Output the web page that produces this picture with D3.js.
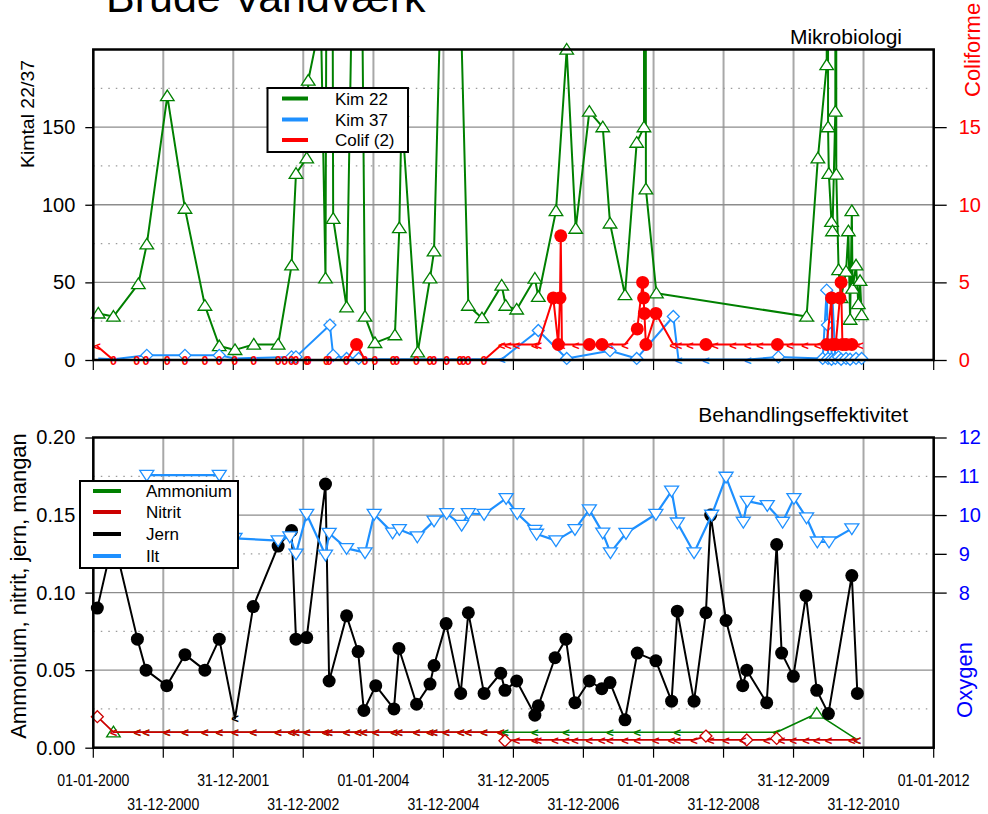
<!DOCTYPE html>
<html lang="da">
<head>
<meta charset="UTF-8">
<title>Brude Vandværk</title>
<script src="https://d3js.org/d3.v7.min.js"></script>
<style>
  body { margin: 0; background: #fff; }
  svg { font-family: "Liberation Sans", Arial, sans-serif; }
</style>
</head>
<body>
<div id="content"></div>
<script>
// ---- data ----
const tickDates = ["2000-01-01","2000-12-31","2001-12-31","2002-12-31","2004-01-01","2004-12-31","2005-12-31","2006-12-31","2008-01-01","2008-12-31","2009-12-31","2010-12-31","2012-01-01"];

const kim22Dates = ["2000-01-27","2000-04-15","2000-08-23","2000-10-06","2001-01-21","2001-04-23","2001-08-05","2001-10-19","2002-01-09","2002-04-17","2002-08-22","2002-10-31","2002-11-23","2003-01-18","2003-01-26","2003-04-02","2003-04-26","2003-05-19","2003-06-05","2003-08-14","2003-10-16","2003-11-18","2004-01-09","2004-04-22","2004-05-15","2004-05-27","2004-08-19","2004-10-22","2004-11-12","2005-02-07","2005-05-10","2005-07-20","2005-10-31","2005-11-21","2006-01-17","2006-04-22","2006-05-10","2006-08-10","2006-10-05","2006-11-21","2007-01-31","2007-04-11","2007-05-19","2007-08-05","2007-10-05","2007-11-12","2007-11-18","2007-11-22","2008-01-16","2010-03-09","2010-05-07","2010-06-22","2010-06-26","2010-06-29","2010-07-03","2010-07-17","2010-07-22","2010-08-06","2010-08-08","2010-08-11","2010-08-23","2010-09-05","2010-10-01","2010-10-13","2010-10-22","2010-10-31","2010-11-04","2010-11-22","2010-12-04","2010-12-13","2010-12-21"];
const kim22 = [30,28,49,74.5,170,97.5,35,9,6.5,10,10,61,120,130,180,220,52.6,1000,91,34,490,28,11,16,85,160,5,52.6,70,480,35,27,48,35,32.6,52.5,40.7,96,200,84.6,160,150,88,41.8,140,150,1500,110,43,28,130,190,2000,150,120,89,83,160,2000,119.5,58,40,57,83,26,96,46,61,36,51,29];

const kim37Dates = ["2000-01-27","2000-04-15","2000-10-06","2001-04-23","2001-10-19","2002-01-09","2002-10-31","2002-11-23","2003-05-19","2003-06-05","2003-08-14","2003-10-16","2004-01-09","2005-10-31","2006-05-10","2006-10-05","2007-05-19","2007-10-05","2008-04-13","2008-05-10","2008-09-30","2009-05-07","2009-10-13","2010-06-01","2010-06-22","2010-06-26","2010-06-29","2010-07-17","2010-07-22","2010-08-06","2010-08-23","2010-09-05","2010-10-01","2010-10-22","2010-11-22","2010-12-21"];
const kim37 = [1,0.5,3,3,3,1,2,2,22.5,3,1,1,0.5,0.5,19,1,6,1,28,0.3,0.3,0.3,2,1,45,22.5,1,0.5,40,1,2,0.5,1,0.5,1,1];
const kim37Flag = ["","","d","d","d","","d","d","d","d","d","d","","<","d","d","d","d","d","<","<","<","d","d","d","d","d","d","d","d","d","d","d","d","d","d"];

const colifDates = ["2000-01-20","2000-04-15","2000-08-15","2000-10-02","2001-01-21","2001-04-23","2001-08-05","2001-10-19","2002-01-07","2002-04-17",
  "2002-08-22","2002-09-26","2002-10-31","2002-11-23","2003-01-18","2003-01-26","2003-05-01","2003-05-15","2003-08-14","2003-10-05",
  "2003-11-18","2004-01-09","2004-04-13","2004-05-01","2004-08-13","2004-10-22","2004-11-12","2005-01-17","2005-03-28","2005-04-14",
  "2005-05-10","2005-07-31","2005-10-31","2005-12-03","2006-01-17","2006-04-22","2006-05-10","2006-07-27","2006-08-22","2006-08-31",
  "2006-09-04","2006-09-10","2006-11-21","2007-01-31","2007-04-07","2007-05-19","2007-08-05","2007-10-08","2007-11-05","2007-11-10",
  "2007-11-14","2007-11-22","2008-01-13","2008-04-13","2008-05-10","2008-07-09","2008-09-30","2008-11-16","2009-02-19","2009-05-07",
  "2009-07-09","2009-10-08","2009-12-13","2010-03-01","2010-05-07","2010-06-22","2010-07-17","2010-07-22","2010-08-08","2010-08-30",
  "2010-09-05","2010-09-12","2010-10-01","2010-10-31","2010-12-13"];
const colif = [0.9,0,0,0,0,0,0,0,0,0,
  0,0,0,0,0,0,0,0,0,1,
  0,0,0,0,0,0,0,0,0,0,
  0,0,1,1,1,1,1,4,1,4,
  8,1,1,1,1,1,1,2,5,4,
  3,1,3,1,1,1,1,1,1,1,
  1,1,1,1,1,1,4,1,1,4,
  5,1,1,1,1];
const colifFlag = ["<","0","0","0","0","0","0","0","0","0",
  "0","0","0","0","0","0","0","0","0","o",
  "0","0","0","0","0","0","0","0","0","0",
  "0","0","<","<","<","<","<","o","o","o",
  "o","<","<","o","o","<","<","o","o","o",
  "o","o","o","<","<","<","o","<","<","<",
  "<","o","<","<","<","o","o","o","o","o",
  "o","o","o","o","<"];

const jernDates = ["2000-01-22","2000-04-15","2000-08-18","2000-10-02","2001-01-18","2001-04-23","2001-08-05","2001-10-19","2002-01-09","2002-04-14",
  "2002-08-22","2002-10-31","2002-11-23","2003-01-18","2003-04-26","2003-05-15","2003-08-14","2003-10-13","2003-11-12","2004-01-13",
  "2004-04-17","2004-05-13","2004-08-13","2004-10-22","2004-11-12","2005-01-14","2005-03-31","2005-05-10","2005-07-31","2005-10-26",
  "2005-11-17","2006-01-17","2006-04-22","2006-05-10","2006-08-05","2006-10-01","2006-11-17","2007-01-31","2007-04-06","2007-05-19",
  "2007-08-05","2007-10-08","2008-01-13","2008-04-04","2008-05-04","2008-07-30","2008-09-30","2008-10-25","2009-01-13","2009-04-10",
  "2009-05-01","2009-08-13","2009-10-04","2009-10-30","2009-12-30","2010-03-06","2010-05-01","2010-07-01","2010-10-31","2010-11-29"];
const jern = [0.090,0.135,0.070,0.050,0.040,0.060,0.050,0.070,0.019,0.091,
  0.130,0.140,0.070,0.071,0.170,0.043,0.085,0.062,0.024,0.040,
  0.025,0.064,0.028,0.041,0.053,0.080,0.035,0.087,0.035,0.048,
  0.037,0.043,0.021,0.027,0.058,0.070,0.029,0.043,0.038,0.042,
  0.018,0.061,0.056,0.030,0.088,0.030,0.087,0.150,0.082,0.040,
  0.050,0.029,0.131,0.061,0.046,0.098,0.037,0.022,0.111,0.035];
const jernFlag = ["o","o","o","o","o","o","o","o","<","o",
  "o","o","o","o","o","o","o","o","o","o",
  "o","o","o","o","o","o","o","o","o","o",
  "o","o","o","o","o","o","o","o","o","o",
  "o","o","o","o","o","o","o","o","o","o",
  "o","o","o","o","o","o","o","o","o","o"];

// nitrit measured on the same days as jern
const nitrit = [0.020,0.01,0.01,0.01,0.01,0.01,0.01,0.01,0.01,0.01,
  0.01,0.01,0.01,0.01,0.01,0.01,0.01,0.01,0.01,0.01,
  0.01,0.01,0.01,0.01,0.01,0.01,0.01,0.01,0.01,0.01,
  0.0045,0.005,0.005,0.005,0.005,0.005,0.005,0.005,0.005,0.005,
  0.005,0.005,0.005,0.005,0.005,0.005,0.0075,0.005,0.005,0.005,
  0.005,0.005,0.006,0.005,0.005,0.005,0.005,0.005,0.005,0.005];
const nitritFlag = ["d","<","<","<","<","<","<","<","<","<",
  "<","<","<","<","<","<","<","<","<","<",
  "<","<","<","<","<","<","<","<","<","<",
  "d","<","<","<","<","<","<","<","<","<",
  "<","<","<","<","<","<","d","<","<","<",
  "d","<","d","<","<","<","<","<","<","<"];

const ammDates = ["2000-04-15","2000-08-18","2000-10-02","2001-01-18","2001-04-23","2001-08-05","2001-10-19","2002-01-09","2002-04-14","2002-08-22",
  "2002-10-31","2002-11-23","2003-01-18","2003-04-26","2003-05-15","2003-08-14","2003-10-13","2003-11-12","2004-01-13","2004-04-17",
  "2004-05-13","2004-08-13","2004-10-22","2004-11-12","2005-01-14","2005-03-31","2005-05-10","2005-07-31","2005-10-26","2005-11-17",
  "2006-04-22","2006-10-01","2007-05-19","2007-10-08","2008-05-04","2009-10-04","2010-05-01","2010-11-29"];
const amm = [0.01,0.01,0.01,0.01,0.01,0.01,0.01,0.01,0.01,0.01,
  0.01,0.01,0.01,0.01,0.01,0.01,0.01,0.01,0.01,0.01,
  0.01,0.01,0.01,0.01,0.01,0.01,0.01,0.01,0.01,0.01,
  0.01,0.01,0.01,0.01,0.01,0.01,0.022,0.005];
const ammFlag = ["d","<","<","<","<","<","<","<","<","<",
  "<","<","<","<","<","<","<","<","<","<",
  "<","<","<","<","<","<","<","<","<","<",
  "<","<","<","<","<","<","d","<"];

const iltDates = ["2000-10-06","2001-10-19","2002-01-09","2002-08-22","2002-10-22","2002-11-23","2003-01-18","2003-04-26","2003-05-15","2003-08-14",
  "2003-11-18","2004-01-05","2004-04-10","2004-05-15","2004-08-17","2004-11-12","2005-01-17","2005-04-05","2005-05-10","2005-07-31",
  "2005-11-23","2006-01-20","2006-04-22","2006-05-01","2006-08-10","2006-11-17","2007-01-31","2007-04-11","2007-05-21","2007-08-10",
  "2008-01-13","2008-04-04","2008-05-04","2008-07-30","2008-10-30","2009-01-13","2009-04-13","2009-05-04","2009-08-16","2009-11-04",
  "2010-01-02","2010-03-09","2010-05-04","2010-07-04","2010-10-31"];
const ilt = [11.03,11.03,9.4,9.34,9.44,9.0,10.02,8.97,9.53,9.14,
  9.03,10.02,9.54,9.63,9.44,9.85,10.04,9.74,10.04,10.02,
  10.43,10.04,9.61,9.51,9.34,9.63,10.14,9.54,9.03,9.53,
  10.02,10.62,9.8,9.03,10.0,10.98,9.82,10.36,10.25,9.82,
  10.43,9.93,9.31,9.31,9.65];

// ---- layout ----
const W = 988, H = 814;
const L = 93.3, R = 933.7;
const topP = { y0: 49.5, y1: 360 };
const botP = { y0: 437.5, y1: 747.7 };

const GREEN = "#008000", BLUE = "#1e90ff", RED = "#ff0000", DRED = "#cc0000";

const parse = d3.utcParse("%Y-%m-%d");
const fmt = d3.utcFormat("%d-%m-%Y");

const svg = d3.select("#content").append("svg")
  .attr("width", W).attr("height", H);

const x = d3.scaleUtc()
  .domain([parse("2000-01-01"), parse("2012-01-01")])
  .range([L, R]);

const yKim = d3.scaleLinear().domain([0, 200]).range([topP.y1, topP.y0]);
const yCol = d3.scaleLinear().domain([0, 20]).range([topP.y1, topP.y0]);
const yChem = d3.scaleLinear().domain([0, 0.2]).range([botP.y1, botP.y0]);
const yOx = d3.scaleLinear().domain([4, 12]).range([botP.y1, botP.y0]);

const shapes = {
  triUp: "M0,-6L6.8,4.6L-6.8,4.6Z",
  triDown: "M0,6L7,-4.8L-7,-4.8Z",
  diamond: "M0,-6L6,0L0,6L-6,0Z"
};

function rows(dates, vals, flags) {
  return dates.map((d, i) => ({ date: parse(d), v: vals[i], f: flags ? flags[i] : "d" }));
}

function frame(p, y, majors, minors, id) {
  const g = svg.append("g");
  svg.append("clipPath").attr("id", id)
    .append("rect").attr("x", L).attr("y", p.y0).attr("width", R - L).attr("height", p.y1 - p.y0);

  g.selectAll(".vg").data(tickDates).enter().append("line")
    .attr("x1", d => x(parse(d))).attr("x2", d => x(parse(d)))
    .attr("y1", p.y0).attr("y2", p.y1)
    .attr("stroke", "#a8a8a8").attr("stroke-width", 2);

  g.selectAll(".hg").data(majors).enter().append("line")
    .attr("x1", L).attr("x2", R).attr("y1", d => y(d)).attr("y2", d => y(d))
    .attr("stroke", "#8c8c8c").attr("stroke-width", 1.3);

  g.selectAll(".hm").data(minors).enter().append("line")
    .attr("x1", L).attr("x2", R).attr("y1", d => y(d)).attr("y2", d => y(d))
    .attr("stroke", "#9a9a9a").attr("stroke-width", 1.2)
    .attr("stroke-dasharray", "1.5,6");

  // small ticks under the panel
  g.selectAll(".xt").data(tickDates).enter().append("line")
    .attr("x1", d => x(parse(d))).attr("x2", d => x(parse(d)))
    .attr("y1", p.y1).attr("y2", p.y1 + 10)
    .attr("stroke", "#000").attr("stroke-width", 1.2);
  return g;
}

function border(p) {
  svg.append("rect")
    .attr("x", L).attr("y", p.y0).attr("width", R - L).attr("height", p.y1 - p.y0)
    .attr("fill", "none").attr("stroke", "#000").attr("stroke-width", 2.5);
}

function styleAxis(g, color) {
  g.select(".domain").remove();
  g.selectAll(".tick line").attr("stroke", "#000").attr("stroke-width", 1.3);
  g.selectAll(".tick text").attr("fill", color).attr("font-size", 20)
    .attr("font-family", "Liberation Sans, Arial, sans-serif");
}

function series(clipId, data, y, color, lw, shape, opts = {}) {
  const g = svg.append("g");
  const line = d3.line().x(d => x(d.date)).y(d => y(d.v));
  g.append("path").datum(data)
    .attr("clip-path", `url(#${clipId})`)
    .attr("d", line).attr("fill", "none")
    .attr("stroke", color).attr("stroke-width", lw).attr("stroke-linejoin", "round");

  const ymax = y.domain()[1];
  const vis = data.filter(d => d.v <= ymax);

  g.selectAll("path.mk").data(vis.filter(d => d.f === "d")).enter().append("path")
    .attr("class", "mk")
    .attr("transform", d => `translate(${x(d.date)},${y(d.v)})`)
    .attr("d", shapes[shape])
    .attr("fill", "#fff").attr("stroke", color).attr("stroke-width", 1.3);

  g.selectAll("circle").data(vis.filter(d => d.f === "o")).enter().append("circle")
    .attr("cx", d => x(d.date)).attr("cy", d => y(d.v))
    .attr("r", opts.r || 6.3).attr("fill", color);

  g.selectAll("text").data(vis.filter(d => d.f === "<" || d.f === "0")).enter().append("text")
    .attr("x", d => x(d.date)).attr("y", d => y(d.v))
    .attr("dy", d => d.f === "0" ? "0.42em" : "0.4em")
    .attr("text-anchor", "middle")
    .attr("font-size", d => d.f === "0" ? 12.5 : 13)
    .attr("font-weight", "bold")
    .attr("fill", color)
    .text(d => d.f);
}

function legend(x0, y0, w, h, items, tx) {
  const g = svg.append("g");
  g.append("rect").attr("x", x0).attr("y", y0).attr("width", w).attr("height", h)
    .attr("fill", "#fff").attr("stroke", "#000").attr("stroke-width", 2);
  items.forEach(it => {
    g.append("line").attr("x1", it.lx0).attr("x2", it.lx1).attr("y1", it.y).attr("y2", it.y)
      .attr("stroke", it.color).attr("stroke-width", 4);
    g.append("text").attr("x", tx).attr("y", it.y).attr("dy", "0.36em")
      .attr("font-size", 17).attr("fill", "#000").text(it.name);
  });
}

// ---- title (cut at the top edge, as in the source) ----
svg.append("text").attr("x", 106).attr("y", 12)
  .attr("font-size", 43).attr("fill", "#000").text("Brude Vandværk");

// ---- top panel: Mikrobiologi ----
frame(topP, yKim, [50, 100, 150], [25, 75, 125, 175], "clipTop");

series("clipTop", rows(kim22Dates, kim22), yKim, GREEN, 2, "triUp");
series("clipTop", rows(kim37Dates, kim37, kim37Flag), yKim, BLUE, 2, "diamond");
series("clipTop", rows(colifDates, colif, colifFlag), yCol, RED, 2, "diamond", { r: 6.5 });

border(topP);

const axL1 = svg.append("g").attr("transform", `translate(${L},0)`)
  .call(d3.axisLeft(yKim).tickValues([0, 50, 100, 150]).tickSize(8).tickPadding(10).tickFormat(d3.format("d")));
styleAxis(axL1, "#000");
const axR1 = svg.append("g").attr("transform", `translate(${R},0)`)
  .call(d3.axisRight(yCol).tickValues([0, 5, 10, 15]).tickSize(13).tickPadding(12).tickFormat(d3.format("d")));
styleAxis(axR1, RED);

svg.append("text").attr("transform", "translate(34,114) rotate(-90)")
  .attr("text-anchor", "middle").attr("font-size", 18)
  .attr("textLength", 108).attr("lengthAdjust", "spacingAndGlyphs")
  .text("Kimtal 22/37");
svg.append("text").attr("transform", "translate(980,97) rotate(-90)")
  .attr("font-size", 22).attr("fill", RED).text("Coliforme");
svg.append("text").attr("x", 902).attr("y", 44).attr("text-anchor", "end")
  .attr("font-size", 21).text("Mikrobiologi");

legend(267.5, 88, 140.5, 64, [
  { name: "Kim 22", color: GREEN, y: 98.5, lx0: 282, lx1: 308 },
  { name: "Kim 37", color: BLUE, y: 119.5, lx0: 282, lx1: 308 },
  { name: "Colif (2)", color: RED, y: 140, lx0: 282, lx1: 308 }
], 335);

// ---- bottom panel: Behandlingseffektivitet ----
frame(botP, yChem, [0.05, 0.10, 0.15], [0.025, 0.075, 0.125, 0.175], "clipBot");

series("clipBot", rows(ammDates, amm, ammFlag), yChem, GREEN, 1.6, "triUp");
series("clipBot", rows(jernDates, nitrit, nitritFlag), yChem, DRED, 1.8, "diamond");
series("clipBot", rows(jernDates, jern, jernFlag), yChem, "#000", 2, "diamond", { r: 6.5 });
series("clipBot", rows(iltDates, ilt), yOx, BLUE, 2.2, "triDown");

border(botP);

const axL2 = svg.append("g").attr("transform", `translate(${L},0)`)
  .call(d3.axisLeft(yChem).tickValues([0, 0.05, 0.10, 0.15, 0.20]).tickSize(8).tickPadding(10).tickFormat(d3.format(".2f")));
styleAxis(axL2, "#000");
const axR2 = svg.append("g").attr("transform", `translate(${R},0)`)
  .call(d3.axisRight(yOx).tickValues([8, 9, 10, 11, 12]).tickSize(13).tickPadding(12).tickFormat(d3.format("d")));
styleAxis(axR2, "#0000ff");

svg.append("text").attr("transform", "translate(26,586) rotate(-90)")
  .attr("text-anchor", "middle").attr("font-size", 22).text("Ammonium, nitrit, jern, mangan");
svg.append("text").attr("transform", "translate(972,680) rotate(-90)")
  .attr("text-anchor", "middle").attr("font-size", 22).attr("fill", "#0000ff").text("Oxygen");
svg.append("text").attr("x", 908).attr("y", 422).attr("text-anchor", "end")
  .attr("font-size", 21).text("Behandlingseffektivitet");

legend(80, 481, 158, 87, [
  { name: "Ammonium", color: GREEN, y: 491, lx0: 93, lx1: 121 },
  { name: "Nitrit", color: DRED, y: 512, lx0: 93, lx1: 121 },
  { name: "Jern", color: "#000", y: 534, lx0: 93, lx1: 121 },
  { name: "Ilt", color: BLUE, y: 556, lx0: 93, lx1: 121 }
], 146);

// ---- date labels (two staggered rows, narrow type) ----
svg.append("g").selectAll("text").data(tickDates).enter().append("text")
  .attr("x", d => x(parse(d)))
  .attr("y", (d, i) => i % 2 === 0 ? 786 : 810)
  .attr("text-anchor", "middle").attr("font-size", 16.5)
  .attr("textLength", 72).attr("lengthAdjust", "spacingAndGlyphs")
  .text(d => fmt(parse(d)));
</script>
</body>
</html>
